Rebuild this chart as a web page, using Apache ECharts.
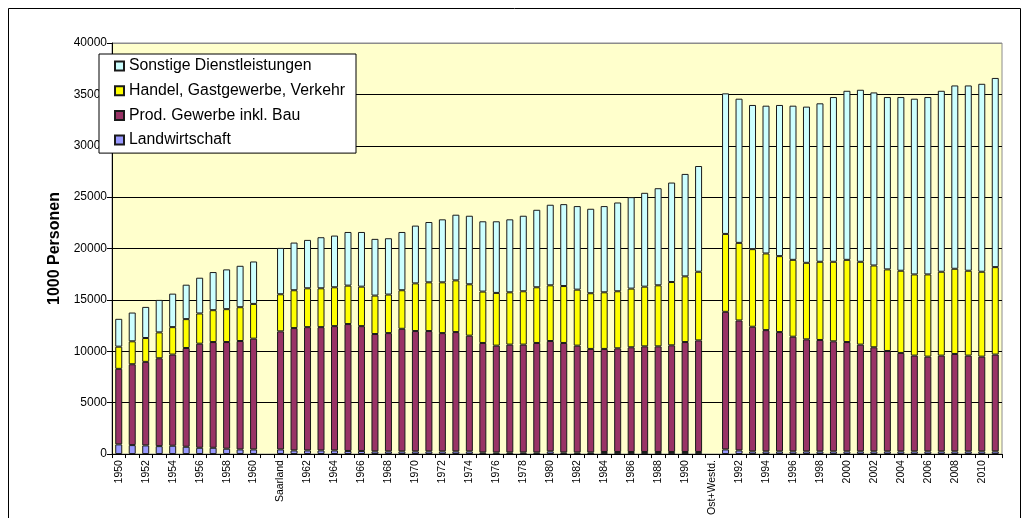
<!DOCTYPE html>
<html>
<head>
<meta charset="utf-8">
<title>Erwerbstätige nach Wirtschaftsbereichen</title>
<script src="https://cdn.jsdelivr.net/npm/echarts@6/dist/echarts.min.js"></script>
<style>
  html, body { margin: 0; padding: 0; background: #fff; }
  #chart { width: 1029px; height: 518px; }
</style>
</head>
<body>
<div id="chart"></div>
<script>
// Kategorien (nur jede zweite wird beschriftet)
var years = ['1950', '1951', '1952', '1953', '1954', '1955', '1956', '1957', '1958', '1959', '1960',
  '', 'Saarland',
  '1961', '1962', '1963', '1964', '1965', '1966', '1967', '1968', '1969', '1970',
  '1971', '1972', '1973', '1974', '1975', '1976', '1977', '1978', '1979', '1980',
  '1981', '1982', '1983', '1984', '1985', '1986', '1987', '1988', '1989', '1990',
  '1991 (West)', 'Ost+Westd.',
  '1991', '1992', '1993', '1994', '1995', '1996', '1997', '1998', '1999', '2000',
  '2001', '2002', '2003', '2004', '2005', '2006', '2007', '2008', '2009', '2010', '2011'];

// Werte in 1000 Personen
var landwirtschaft = [940, 870, 840, 770, 810, 710, 610, 610, 520, 450, 450,
  null, 450,
  350, 350, 350, 350, 300, 300, 260, 260, 260, 260,
  260, 260, 260, 260, 160, 160, 160, 160, 160, 260,
  160, 160, 160, 200, 200, 200, 200, 200, 200, 200,
  200, null,
  450, 350, 260, 260, 260, 260, 260, 260, 260, 260,
  260, 260, 260, 260, 260, 260, 260, 260, 260, 260, 260];

var prodGewerbe = [7350, 7870, 8130, 8550, 8870, 9610, 10130, 10290, 10380, 10550, 10780,
  null, 11490,
  11910, 12000, 12000, 12100, 12350, 12150, 11420, 11510, 11930, 11710,
  11710, 11510, 11610, 11260, 10650, 10390, 10490, 10490, 10650, 10740,
  10650, 10390, 10070, 10030, 10090, 10190, 10280, 10280, 10380, 10700,
  10860, null,
  13390, 12650, 12130, 11800, 11610, 11160, 10900, 10840, 10710, 10640,
  10390, 10130, 9770, 9580, 9320, 9220, 9320, 9480, 9320, 9220, 9420];

var handel = [2160, 2230, 2320, 2520, 2670, 2810, 2940, 3100, 3200, 3290, 3380,
  null, 3610,
  3680, 3780, 3780, 3780, 3740, 3840, 3740, 3750, 3750, 4640,
  4740, 4940, 5030, 5000, 5000, 5130, 5090, 5190, 5420, 5420,
  5540, 5450, 5420, 5510, 5550, 5710, 5810, 5940, 6160, 6390,
  6680, null,
  7580, 7550, 7550, 7460, 7390, 7480, 7450, 7610, 7740, 8000,
  8060, 7960, 7940, 8000, 7900, 8000, 8160, 8290, 8260, 8260, 8510];

var sonstige = [2710, 2800, 3030, 3160, 3260, 3350, 3480, 3710, 3870, 4030, 4130,
  null, 4510,
  4640, 4710, 4970, 5030, 5220, 5320, 5520, 5480, 5670, 5620,
  5870, 6130, 6390, 6670, 6840, 6970, 7100, 7350, 7540, 7840,
  7970, 8130, 8220, 8390, 8640, 8900, 9130, 9450, 9680, 9970,
  10290, null,
  13680, 14030, 14030, 14380, 14710, 15000, 15200, 15420, 16030, 16450,
  16740, 16840, 16770, 16900, 17100, 17260, 17610, 17840, 18030, 18290, 18410];

var yTicks = [0, 5000, 10000, 15000, 20000, 25000, 30000, 35000, 40000];

var fontFam = '"Liberation Sans", Arial, sans-serif';

function barSerie(name, data, color) {
  return {
    name: name,
    type: 'bar',
    stack: 'gesamt',
    barWidth: 7,
    data: data,
    itemStyle: { color: color, borderColor: '#1a1a1a', borderWidth: 1 }
  };
}

var myChart = echarts.init(document.getElementById('chart'));

var option = {
  animation: false,
  backgroundColor: '#fff',
  textStyle: { fontFamily: fontFam },
  graphic: [{
    type: 'rect',
    shape: { x: 8.5, y: 8.5, width: 1012, height: 520 },
    style: { fill: null, stroke: '#000', lineWidth: 1 },
    silent: true
  }],
  grid: {
    left: 112, right: 27, top: 43, bottom: 63,
    show: true,
    backgroundColor: '#FFFFCC',
    borderColor: '#8c8c8c',
    borderWidth: 1
  },
  legend: {
    orient: 'vertical',
    left: 99, top: 54,
    data: ['Sonstige Dienstleistungen', 'Handel, Gastgewerbe, Verkehr', 'Prod. Gewerbe inkl. Bau', 'Landwirtschaft'],
    backgroundColor: '#fff',
    borderColor: '#000',
    borderWidth: 1,
    borderRadius: 0,
    padding: [4, 11, 5, 15],
    itemWidth: 9,
    itemHeight: 9,
    itemGap: 8.7,
    itemTextGap: 3,
    icon: 'rect',
    textStyle: { fontSize: 15.8, lineHeight: 16, color: '#000', fontFamily: fontFam }
  },
  xAxis: {
    type: 'category',
    data: years,
    boundaryGap: true,
    axisLine: { lineStyle: { color: '#000', width: 1 } },
    axisTick: { show: true, interval: 0, length: 4, lineStyle: { color: '#000' } },
    axisLabel: { interval: 1, rotate: 90, fontSize: 10.5, color: '#000', margin: 6, fontFamily: fontFam },
    splitLine: { show: false }
  },
  yAxis: {
    type: 'value',
    min: yTicks[0],
    max: yTicks[yTicks.length - 1],
    interval: 5000,
    name: '1000 Personen',
    nameLocation: 'middle',
    nameGap: 48,
    nameRotate: 90,
    nameTextStyle: { fontSize: 16, fontWeight: 'bold', color: '#000', fontFamily: fontFam },
    axisLine: { show: true, lineStyle: { color: '#000', width: 1 } },
    axisTick: { show: true, length: 5, lineStyle: { color: '#000' } },
    axisLabel: {
      fontSize: 12, color: '#000', margin: 5, fontFamily: fontFam,
      formatter: function (v) { return String(v); }
    },
    splitLine: {
      show: true,
      lineStyle: { color: ['#000', '#000', '#000', '#000', '#000', '#000', '#000', '#000', '#8c8c8c'], width: 1 }
    }
  },
  series: [
    barSerie('Landwirtschaft', landwirtschaft, '#9999FF'),
    barSerie('Prod. Gewerbe inkl. Bau', prodGewerbe, '#993366'),
    barSerie('Handel, Gastgewerbe, Verkehr', handel, '#FFFF00'),
    barSerie('Sonstige Dienstleistungen', sonstige, '#CCFFFF')
  ]
};

myChart.setOption(option);
</script>
</body>
</html>
